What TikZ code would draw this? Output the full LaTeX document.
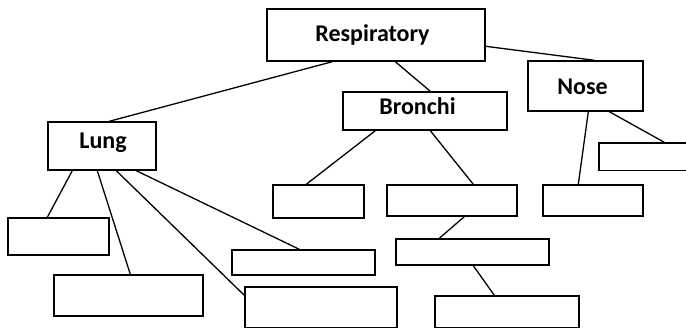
\documentclass[tikz,border=0pt]{standalone}
\usepackage{fontspec}
\setmainfont{Carlito}
\begin{document}
\begin{tikzpicture}[x=1pt,y=-1pt,
  box/.style={draw=black,line width=1.4pt,inner sep=0pt,rectangle},
  lbl/.style={anchor=base,inner sep=0pt,font=\fontsize{24}{28}\selectfont\bfseries},
  conn/.style={draw=black,line width=1.3pt}]
\useasboundingbox (0,0) rectangle (686,328);
\clip (0,0) rectangle (686,328);
% boxes
\node[box,minimum width=218pt,minimum height=52pt] (resp) at (376,35) {};
\node[box,minimum width=108pt,minimum height=48pt] (lung) at (102,146) {};
\node[box,minimum width=164pt,minimum height=38pt] (bron) at (425,111) {};
\node[box,minimum width=115pt,minimum height=50pt] (nose) at (585.5,86) {};
\node[box,minimum width=121pt,minimum height=27.5pt] (nr) at (659.5,156.75) {};
\node[box,minimum width=101pt,minimum height=37pt] (la) at (58.5,236.5) {};
\node[box,minimum width=149pt,minimum height=41pt] (lb) at (128.5,295.5) {};
\node[box,minimum width=143pt,minimum height=25pt] (lc) at (303.5,262.5) {};
\node[box,minimum width=152pt,minimum height=40.5pt] (ld) at (321,307.25) {};
\node[box,minimum width=91pt,minimum height=33pt] (be) at (318.5,201.5) {};
\node[box,minimum width=130pt,minimum height=31pt] (bf) at (452,200.5) {};
\node[box,minimum width=153pt,minimum height=26pt] (bg) at (472.5,252) {};
\node[box,minimum width=144pt,minimum height=31.5pt] (bh) at (507,311.75) {};
\node[box,minimum width=100pt,minimum height=31pt] (ni) at (593,200.5) {};
% labels
\node[lbl] (respt) at (372.5,41.7) {Respiratory};
\node[lbl] (lungt) at (103,148.3) {Lung};
\node[lbl] (pront) at (417.5,115) {Bronchi};
\node[lbl] (noset) at (582.5,94.3) {Nose};
% connectors
\draw[conn] ([xshift=66pt]resp.south west) -- ([xshift=62pt]lung.north west);
\draw[conn] ([xshift=129pt]resp.south west) -- ([xshift=88pt]bron.north west);
\draw[conn] ([yshift=-38pt]resp.north east) -- ([xshift=67pt]nose.north west);
\draw[conn] ([xshift=33pt]bron.south west) -- ([xshift=34pt]be.north west);
\draw[conn] ([xshift=88pt]bron.south west) -- ([xshift=87pt]bf.north west);
\draw[conn] ([xshift=61pt]nose.south west) -- ([xshift=36pt]ni.north west);
\draw[conn] ([xshift=82pt]nose.south west) -- ([xshift=66pt]nr.north west);
\draw[conn] ([xshift=78pt]bf.south west) -- ([xshift=44pt]bg.north west);
\draw[conn] ([xshift=78pt]bg.south west) -- ([xshift=60pt]bh.north west);
\draw[conn] ([xshift=25pt]lung.south west) -- ([xshift=40pt]la.north west);
\draw[conn] ([xshift=50pt]lung.south west) -- ([xshift=77pt]lb.north west);
\draw[conn] ([xshift=69pt]lung.south west) -- ([yshift=-9pt]ld.north west);
\draw[conn] ([xshift=89pt]lung.south west) -- ([xshift=68pt]lc.north west);
\end{tikzpicture}
\end{document}
